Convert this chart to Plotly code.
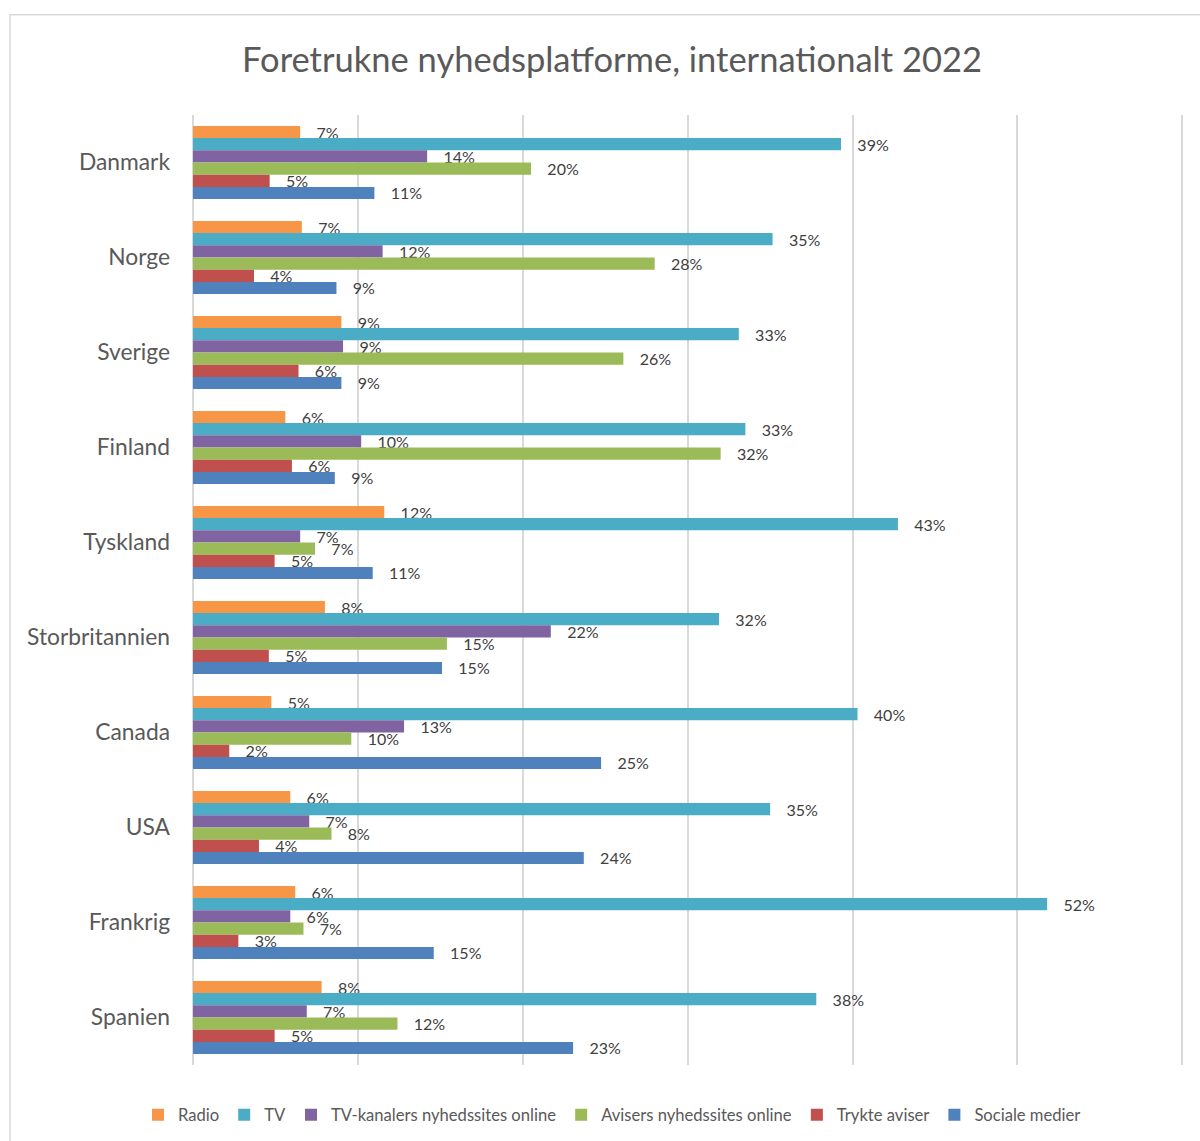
import plotly.graph_objects as go

countries = ["Danmark", "Norge", "Sverige", "Finland", "Tyskland",
             "Storbritannien", "Canada", "USA", "Frankrig", "Spanien"]
series_names = ["Radio", "TV", "TV-kanalers nyhedssites online",
                "Avisers nyhedssites online", "Trykte aviser", "Sociale medier"]

radio = [6.5, 6.6, 9.0, 5.6, 11.6, 8.0, 4.75, 5.9, 6.2, 7.8]
tv = [39.3, 35.15, 33.1, 33.5, 42.75, 31.9, 40.3, 35.0, 51.8, 37.8]
tv_online = [14.2, 11.5, 9.1, 10.2, 6.5, 21.7, 12.8, 7.05, 5.9, 6.9]
avis_online = [20.5, 28.0, 26.1, 32.0, 7.4, 15.4, 9.6, 8.4, 6.7, 12.4]
trykte = [4.65, 3.7, 6.4, 6.0, 4.95, 4.6, 2.2, 4.0, 2.75, 4.95]
sociale = [11.0, 8.7, 9.0, 8.6, 10.9, 15.1, 24.75, 23.7, 14.6, 23.05]

radio_lbl = [7, 7, 9, 6, 12, 8, 5, 6, 6, 8]
tv_lbl = [39, 35, 33, 33, 43, 32, 40, 35, 52, 38]
tv_online_lbl = [14, 12, 9, 10, 7, 22, 13, 7, 6, 7]
avis_online_lbl = [20, 28, 26, 32, 7, 15, 10, 8, 7, 12]
trykte_lbl = [5, 4, 6, 6, 5, 5, 2, 4, 3, 5]
sociale_lbl = [11, 9, 9, 9, 11, 15, 25, 24, 15, 23]

colors = ["#F79646", "#4BACC6", "#8064A2", "#9BBB59", "#C0504D", "#4F81BD"]

values = [radio, tv, tv_online, avis_online, trykte, sociale]
labels = [radio_lbl, tv_lbl, tv_online_lbl, avis_online_lbl, trykte_lbl, sociale_lbl]

FONT = "Lato"
fig = go.Figure()
for name, vals, lbls, col in zip(series_names, values, labels, colors):
    fig.add_trace(go.Bar(
        y=countries, x=vals, name=name, orientation="h",
        marker=dict(color=col, line=dict(width=0)),
        text=["\u2002\u2004" + f"{v}%" for v in lbls],
        textposition="outside", constraintext="none", cliponaxis=False,
        textfont=dict(family=FONT, size=16, color="#404040"),
        hoverinfo="skip",
    ))

fig.update_layout(
    width=1200, height=1141,
    paper_bgcolor="white", plot_bgcolor="white",
    barmode="group", bargap=0.23, bargroupgap=0,
    margin=dict(l=193, r=16, t=115, b=76),
    title=dict(text="Foretrukne nyhedsplatforme, internationalt 2022",
               x=0.51, xref="container", xanchor="center",
               y=1 - 60 / 1141, yref="container", yanchor="middle",
               font=dict(family=FONT, size=34.5, color="#595959")),
    xaxis=dict(range=[0, 60.1], dtick=10, showticklabels=False,
               showgrid=True, gridcolor="#D9D9D9", gridwidth=2,
               zeroline=True, zerolinecolor="#D9D9D9", zerolinewidth=2,
               showline=False, fixedrange=True),
    yaxis=dict(autorange="reversed", showgrid=False, showline=False,
               ticks="", ticklabelstandoff=22, fixedrange=True,
               tickfont=dict(family=FONT, size=22.8, color="#595959")),
    legend=dict(orientation="h", xref="container", yref="container",
                x=0.51, xanchor="center", y=1 - 1115 / 1141, yanchor="middle",
                font=dict(family=FONT, size=16.6, color="#595959"),
                traceorder="normal"),
    showlegend=True,
    shapes=[dict(type="rect", xref="paper", yref="paper",
                 x0=-0.1847, x1=1.035, y0=-0.1, y1=1.1055,
                 line=dict(color="#D9D9D9", width=1.5), layer="below")],
)

fig.write_html("out.html", config={"displayModeBar": False},
               post_script="document.body.style.margin='0';")
